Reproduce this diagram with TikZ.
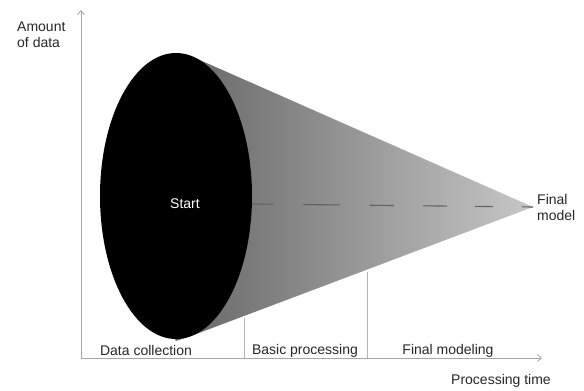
\documentclass[tikz,border=0pt]{standalone}
\usepackage{fontspec}
\setmainfont{Liberation Sans}
\usetikzlibrary{arrows.meta,calc}
\begin{document}
\begin{tikzpicture}[x=1pt,y=1pt,
  lbl/.style={font=\fontsize{14}{16}\selectfont, inner sep=0pt, text=black!85},
  axis/.style={draw=black!35, line width=0.8pt},
  divider/.style={draw=black!30, line width=0.7pt},
  dashseg/.style={draw=black!62, line width=1.1pt}]
\useasboundingbox (0,0) rectangle (584,391);
% key points (y = 391 - image y)
\coordinate (apex) at (533,184);
\coordinate (ctr) at (176,195);
\coordinate (tt) at (193,334);
\coordinate (tb) at (191,55);
% cone
\shade[left color=black!68, right color=black!22] (tt) -- (apex) -- (tb) -- (176,50) -- (100,195) -- cycle;
% dashed centre line
\foreach \a/\b in {252/273, 303/340, 370/394, 423/447, 475/493, 522/533}{
  \draw[dashseg] ($(251,187)!{(\a-251)/282}!(apex)$) -- ($(251,187)!{(\b-251)/282}!(apex)$);
}
% ellipse
\fill[black] (ctr) ellipse [x radius=76, y radius=143];
\node[font=\fontsize{14}{16}\selectfont, text=white, inner sep=0pt] (start) at (185,187) {Start};
% axes
\coordinate (origin) at (81,33);
\coordinate (ytop) at (81,381);
\coordinate (xend) at (542,33);
\draw[axis, -{Straight Barb[length=4pt,width=7pt]}] (origin) -- (ytop);
\draw[axis, -{Straight Barb[length=4pt,width=7pt]}] (origin) -- (xend);
% dividers
\coordinate (d1b) at (244,33);
\coordinate (d1t) at (244,73);
\coordinate (d2b) at (367,33);
\coordinate (d2t) at (367,119);
\draw[divider] (d1b) -- (d1t);
\draw[divider] (d2b) -- (d2t);
% labels
\node[lbl, align=left, anchor=north west] (amount) at (17,369) {Amount\\of data};
\node[lbl, align=left, anchor=west] (final) at (537,184) {Final\\model};
\node[lbl] (dc) at (146,41) {Data collection};
\node[lbl] (bp) at (305,40) {Basic processing};
\node[lbl] (fm) at (448,40) {Final modeling};
\node[lbl] (pt) at (501,10) {Processing time};
\end{tikzpicture}
\end{document}
